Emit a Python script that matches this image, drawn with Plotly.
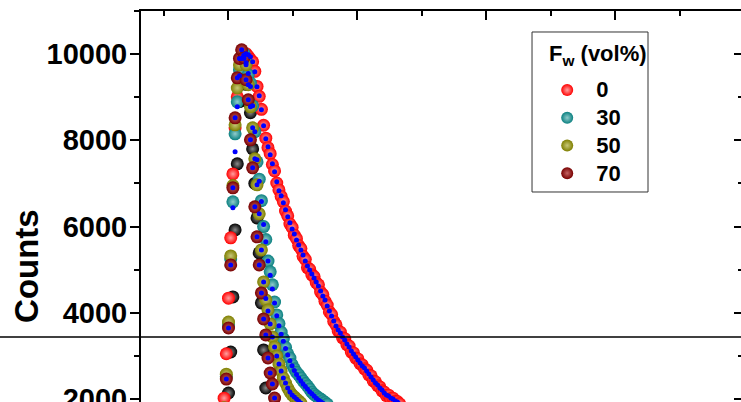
import plotly.graph_objects as go

# time channels (arbitrary time units, tick labels not visible in the crop)
time_ns = [9.70, 9.87, 10.04, 10.21, 10.38, 10.55, 10.72, 10.89, 11.06, 11.23,
           11.40, 11.57, 11.74, 11.91, 12.08, 12.25, 12.42, 12.59, 12.76, 12.93,
           13.10, 13.27, 13.44, 13.61, 13.78, 13.95, 14.12, 14.29, 14.46, 14.63,
           14.80, 14.97, 15.14, 15.31, 15.48, 15.65, 15.82, 15.99, 16.16, 16.33,
           16.50, 16.67, 16.84, 17.01, 17.18, 17.35, 17.52, 17.69, 17.86, 18.03,
           18.20, 18.37, 18.54, 18.71, 18.88, 19.05, 19.22, 19.39, 19.56, 19.73,
           19.90, 20.07, 20.24, 20.41, 20.58, 20.75, 20.92, 21.09, 21.26, 21.43,
           21.60, 21.77, 21.94, 22.11, 22.28, 22.45, 22.62, 22.79, 22.96, 23.13,
           23.30]

# F_w = 0 vol%  (starts at channel 0)
counts_0 = [2020, 3050, 4340, 5740, 7220, 8290, 9010, 9520, 9830, 9960,
            10010, 9950, 9880, 9820, 9600, 9250, 9020, 8720, 8350, 8050,
            7830, 7690, 7440, 7290, 7010, 6850, 6700, 6580, 6360, 6250,
            6060, 5980, 5800, 5720, 5560, 5490, 5310, 5240, 5050, 5010,
            4880, 4840, 4700, 4650, 4480, 4420, 4270, 4180, 4020, 3960,
            3800, 3720, 3580, 3550, 3420, 3400, 3260, 3230, 3090, 3070,
            2950, 2930, 2820, 2790, 2700, 2670, 2560, 2540, 2420, 2400,
            2310, 2280, 2190, 2160, 2080, 2090, 2010, 2020, 1950, 1940,
            1890]
# fit of F_w = 0 (starts at channel 9)
fit_0 = [9962, 10008, 9985, 9939, 9823, 9591, 9243, 9034, 8709, 8338,
         8036, 7850, 7664, 7455, 7270, 7037, 6828, 6712, 6550, 6388,
         6225, 6086, 5946, 5830, 5691, 5575, 5459, 5343, 5204, 5088,
         4995, 4902, 4809, 4716, 4623, 4507, 4391, 4298, 4159, 4043,
         3927, 3811, 3695, 3602, 3533, 3440, 3370, 3277, 3208, 3115,
         3045, 2976, 2906, 2836, 2766, 2720, 2651, 2581, 2511, 2442,
         2372, 2326, 2256, 2210, 2140, 2094, 2071, 2024, 2001, 1955,
         1931, 1885]

# F_w = 30 vol% (starts at channel 1)
counts_30 = [2520, 3720, 5250, 6573, 8152, 8894, 9640, 9950, 10020,
             9820, 9520, 9330, 8800, 8200, 7500, 7100, 6600, 6000, 5700,
             5200, 4950, 4650, 4250, 3950, 3750, 3550, 3400, 3200, 3050,
             2950, 2800, 2700, 2620, 2560, 2490, 2420, 2360, 2300, 2230,
             2160, 2110, 2070, 2030, 2000, 1960, 1920, 1880]
# fit of F_w = 30 (starts at channel 4)
fit_30 = [6434, 7734, 8778, 9500, 9900, 9980, 9800, 9550, 9250,
          8800, 8200, 7550, 7050, 6580, 6050, 5650, 5200, 4870, 4550,
          4230, 3930, 3700, 3500, 3340, 3170, 3020, 2890, 2770, 2660,
          2570, 2490, 2420, 2350, 2290, 2230, 2170, 2120, 2070, 2020,
          1980, 1940, 1900, 1860, 1820]

# F_w = 50 vol% (starts at channel 0)
counts_50 = [1800, 2576, 3787, 5320, 6950, 8361, 9214, 9750, 9950, 9900,
             9753, 9290, 8778, 8291, 7571, 6968, 6295, 5459, 4716, 4298,
             4066, 3741, 3440, 3208, 2999, 2813, 2651, 2488, 2372, 2256,
             2163, 2094, 2048, 2001, 1955, 1908]
# fit of F_w = 50 (starts at channel 9)
fit_50 = [9900, 9753, 9290, 8778, 8291, 7571, 6968, 6295, 5459, 4716,
          4330, 4040, 3741, 3440, 3208, 2999, 2813, 2651, 2488, 2372,
          2256, 2163, 2094, 2048, 2001, 1955, 1908]

# F_w = 70 vol% (starts at channel 0)
counts_70 = [1750, 2463, 3647, 5110, 6898, 8523, 9451, 9900, 10101, 9916,
             9405, 8941, 8012, 7362, 6457, 5761, 5110, 4461, 3857, 3486,
             2952, 2604, 2349, 2024, 1800]
fit_70 = counts_70

# unlabelled black reference curve (starts at channel 1)
counts_ref = [1700, 2140, 3091, 4368, 5923, 7455, 8900, 9700, 9850, 9300,
              8900, 8640, 7800, 7000, 6200, 5389, 4229, 3138, 2256, 1700]

legend_labels = ["0", "30", "50", "70"]
legend_title = "F<sub>w</sub> (vol%)"

FONT = "Liberation Sans"
fig = go.Figure()


def sphere(name, t, y, base, light, legend=True):
    fig.add_trace(go.Scatter(
        x=t, y=y, mode="markers", name=name, showlegend=legend,
        marker=dict(size=13, color=base, line=dict(width=0),
                    gradient=dict(type="radial", color=light))))


def fit(t, y):
    fig.add_trace(go.Scatter(
        x=t, y=y, mode="markers", showlegend=False,
        marker=dict(size=5, color="#0000ff", line=dict(width=0))))


def lbl(s):
    return '<span style="font-size:22px">' + s + '</span>'


sphere("ref", time_ns[1:1 + len(counts_ref)], counts_ref, "#000000", "#8a8a8a", legend=False)
sphere(lbl(legend_labels[0]), time_ns[:len(counts_0)], counts_0, "#ff0000", "#ffa0a0")
sphere(lbl(legend_labels[1]), time_ns[1:1 + len(counts_30)], counts_30, "#0a8080", "#90cccc")
sphere(lbl(legend_labels[2]), time_ns[:len(counts_50)], counts_50, "#7f7f00", "#c8c878")
sphere(lbl(legend_labels[3]), time_ns[:len(counts_70)], counts_70, "#780000", "#c46262")
fit(time_ns[9:9 + len(fit_0)], fit_0)
fit(time_ns[4:4 + len(fit_30)], fit_30)
fit(time_ns[9:9 + len(fit_50)], fit_50)
fit(time_ns[:len(fit_70)], fit_70)

# empty trace to activate the mirrored (top / right) axes
fig.add_trace(go.Scatter(x=[], y=[], xaxis="x2", yaxis="y2", showlegend=False))

XR = [3.256, 49.767]
YR = [1931, 11000]

fig.update_layout(
    width=741, height=402,
    margin=dict(l=141, r=0, t=11, b=0, autoexpand=False),
    paper_bgcolor="white", plot_bgcolor="white",
    showlegend=True,
    xaxis=dict(range=XR, showline=False, ticks="", showticklabels=False,
               showgrid=False, zeroline=False, automargin=False),
    xaxis2=dict(range=XR, overlaying="x", side="top", anchor="y",
                showline=True, linecolor="black", linewidth=2,
                ticks="inside", ticklen=9, tickwidth=2, tickcolor="black",
                tick0=0, dtick=10, showticklabels=False, showgrid=False,
                zeroline=False, automargin=False,
                minor=dict(ticks="inside", ticklen=5, tickwidth=2,
                           tickcolor="black", dtick=5, showgrid=False)),
    yaxis=dict(range=YR, showline=True, linecolor="black", linewidth=2,
               ticks="outside", ticklen=9, tickwidth=2, tickcolor="black",
               tick0=0, dtick=2000, tickformat="d", ticklabeloverflow="allow",
               ticklabelstandoff=-3,
               showgrid=False, zeroline=False, automargin=False,
               tickfont=dict(family=FONT, size=29, color="black", weight="bold"),
               minor=dict(ticks="outside", ticklen=5, tickwidth=2,
                          tickcolor="black", dtick=1000, showgrid=False)),
    yaxis2=dict(range=YR, overlaying="y", side="right", anchor="x",
                showline=False, ticks="inside", ticklen=7, tickwidth=2,
                tickcolor="black", tick0=0, dtick=2000, showticklabels=False,
                showgrid=False, zeroline=False, automargin=False,
                minor=dict(ticks="inside", ticklen=3, tickwidth=2,
                           tickcolor="black", dtick=1000, showgrid=False)),
    legend=dict(x=0.662, y=0.846, xanchor="left", yanchor="top",
                bgcolor="rgba(0,0,0,0)", borderwidth=0,
                itemwidth=48, itemsizing="constant",
                font=dict(family=FONT, size=19, color="black", weight="bold")),
    shapes=[
        dict(type="rect", xref="paper", yref="paper", x0=0.6517, x1=0.845,
             y0=0.5371, y1=0.9463, line=dict(color="#333333", width=1),
             fillcolor="white", layer="below"),
        dict(type="line", xref="paper", yref="paper", x0=-0.235, x1=1.0,
             y0=0.1662, y1=0.1662, line=dict(color="black", width=1.3),
             layer="above"),
    ],
    annotations=[
        dict(text="Counts", xref="paper", yref="paper", x=-0.19, y=0.348,
             xanchor="center", yanchor="middle", showarrow=False,
             textangle=-90,
             font=dict(family=FONT, size=33, color="black", weight="bold")),
        dict(text=legend_title, xref="paper", yref="paper", x=0.6767,
             y=0.8875, xanchor="left", yanchor="middle", showarrow=False,
             font=dict(family=FONT, size=22, color="black", weight="bold")),
    ],
)

fig.write_html("out.html", config={"displayModeBar": False})
